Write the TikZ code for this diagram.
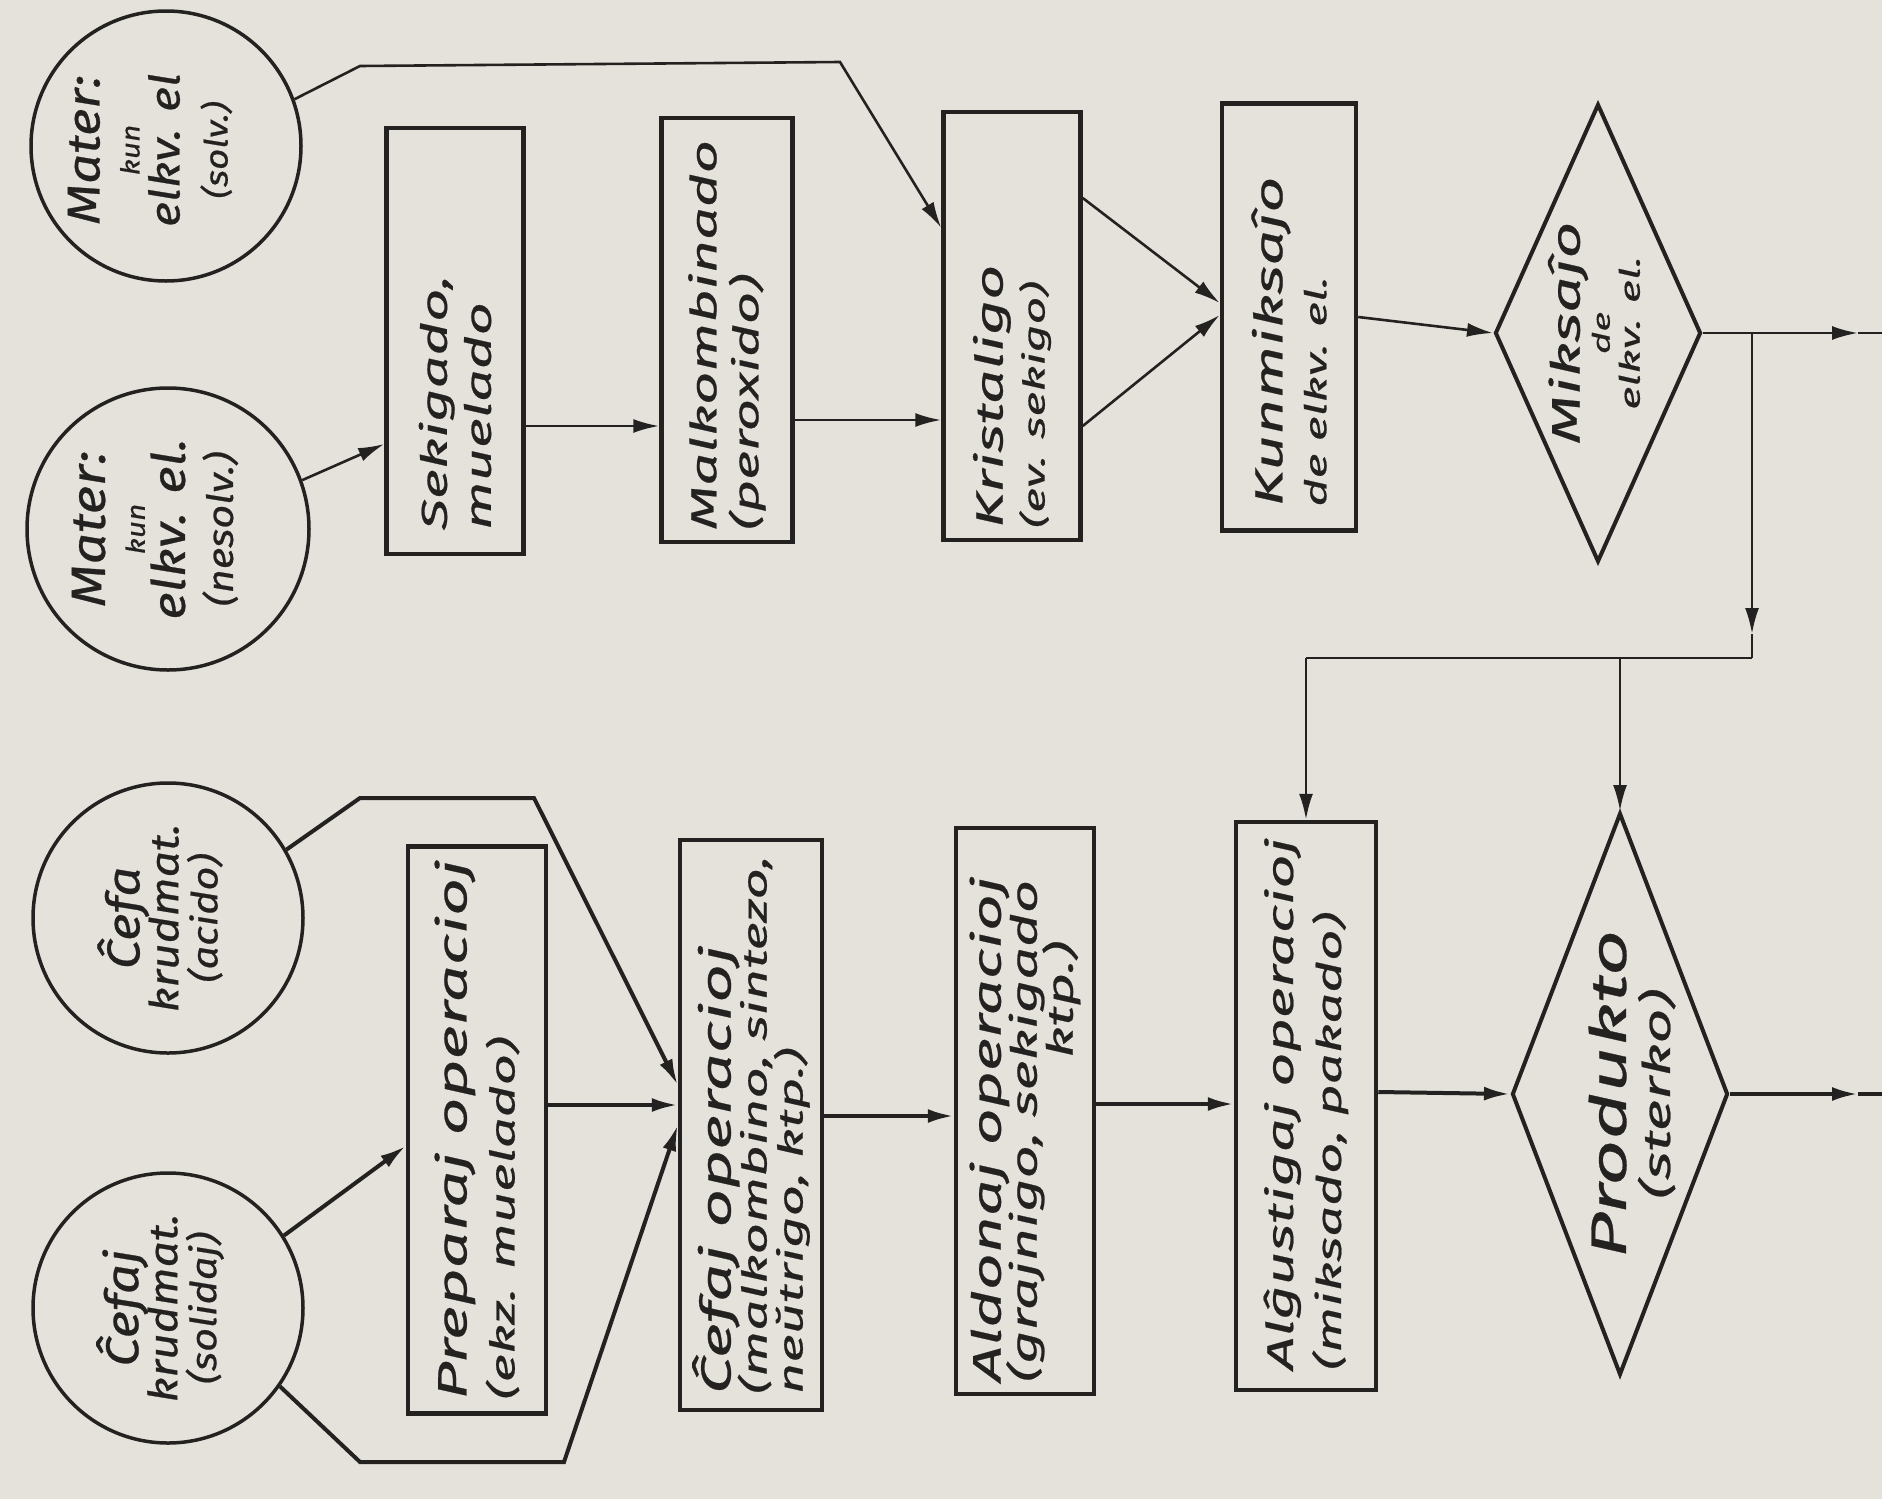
\documentclass[tikz,border=0pt]{standalone}
\usepackage{fontspec}
\newfontfamily\handw{Fira Sans}[FakeStretch=1.6,FakeBold=0.6]
\newfontfamily\handn{Fira Sans}[FakeStretch=1.15,FakeBold=0.6]
\usetikzlibrary{arrows.meta,calc,shapes.geometric}
\definecolor{paper}{RGB}{228,226,219}
\definecolor{ink}{RGB}{36,34,32}
\newcommand\fsz[2]{\fontsize{#1}{#2}\selectfont}
\tikzset{
  box/.style={draw=ink,line width=4.5pt,inner sep=0pt},
  circ/.style={circle,draw=ink,line width=3.5pt,inner sep=0pt,minimum size=#1},
  dia/.style={diamond,draw=ink,line width=4pt,inner sep=0pt},
  btxt/.style={rotate=90,align=left,inner sep=0pt,text=ink,anchor=west},
  ctxt/.style={rotate=90,align=center,inner sep=0pt,text=ink},
  thinc/.style={draw=ink,line width=2.6pt},
  thickc/.style={draw=ink,line width=4pt},
  arr/.style={-{Latex[length=26pt,width=14pt]}},
}
\begin{document}
\begin{tikzpicture}[x=1pt,y=-1pt]
\lineskiplimit=-500pt
\fill[paper] (0,0) rectangle (1882,1499);
\useasboundingbox (0,0) rectangle (1882,1499);

% ---------- circles ----------
\node[circ=270pt] (cA) at (166,146) {};
\node[circ=282pt] (cB) at (168,529) {};
\node[circ=270pt] (cC) at (168,918) {};
\node[circ=270pt] (cD) at (168,1308) {};

\node[ctxt,font=\handn\itshape\fsz{40}{40}] (cA-t) at (150,150)
  {{\fsz{46}{40}Mater:}\\{\fsz{26}{40}kun}\\{\fsz{42}{40}elkv. el}\\[8pt]{\fsz{32}{40}(solv.)}};
\node[ctxt,font=\handn\itshape\fsz{40}{40}] (cB-t) at (155,529)
  {{\fsz{48}{40}Mater:}\\{\fsz{26}{40}kun}\\{\fsz{46}{40}elkv. el.}\\[8pt]{\fsz{36}{40}(nesolv.)}};
\node[ctxt,font=\handn\itshape\fsz{40}{39}] (cC-t) at (160,918)
  {{\fsz{46}{39}Ĉefa}\\{\fsz{40}{39}krudmat.}\\{\fsz{36}{39}(acido)}};
\node[ctxt,font=\handn\itshape\fsz{40}{39}] (cD-t) at (160,1308)
  {{\fsz{46}{39}Ĉefaj}\\{\fsz{40}{39}krudmat.}\\{\fsz{36}{39}(solidaj)}};

% ---------- top row ----------
\node[box,minimum width=137pt,minimum height=426pt] (sek) at (455,341) {};
\node[box,minimum width=131pt,minimum height=424pt] (malk) at (727,330) {};
\node[box,minimum width=137pt,minimum height=428pt] (krist) at (1012,326) {};
\node[box,minimum width=134pt,minimum height=427pt] (kunm) at (1289,317) {};
\node[dia,minimum width=206pt,minimum height=458pt] (dm) at (1598,333) {};

\node[btxt,font=\handw\itshape\fsz{36}{44}] (sek-t) at ([yshift=26pt]sek.south)
  {Sekigado,\\muelado};
\node[btxt,font=\handw\itshape\fsz{35}{42}] (malk-t) at ([yshift=14pt]malk.south)
  {{\fsz{36}{42}Malkombinado}\\(peroxido)};
\node[btxt,font=\handw\itshape\fsz{30}{42}] (krist-t) at ([yshift=14pt]krist.south)
  {{\fsz{38}{42}Kristaligo}\\(ev. sekigo)};
\node[btxt,font=\handw\itshape\fsz{30}{44}] (kunm-t) at ([yshift=26pt]kunm.south)
  {{\fsz{39}{44}Kunmiksaĵo}\\de elkv. el.};
\node[ctxt,font=\handw\itshape\fsz{28}{30}] (dm-t) at (1594,333)
  {{\fsz{40}{30}Miksaĵo}\\{\fsz{24}{30}de}\\elkv. el.};

% ---------- bottom row ----------
\node[box,minimum width=138pt,minimum height=567pt] (prep) at (477,1130) {};
\node[box,minimum width=142pt,minimum height=570pt] (cef) at (751,1125) {};
\node[box,minimum width=138pt,minimum height=566pt] (ald) at (1025,1111) {};
\node[box,minimum width=140pt,minimum height=568pt] (alg) at (1306,1106) {};
\node[dia,minimum width=216pt,minimum height=562pt] (dp) at (1620,1094) {};

\node[btxt,font=\handw\itshape\fsz{34}{48}] (prep-t) at ([yshift=16pt]prep.south)
  {{\fsz{41}{48}Preparaj operacioj}\\(ekz. muelado)};
\node[btxt,font=\handw\itshape\fsz{34}{36}] (cef-t) at ([yshift=18pt]cef.south)
  {{\fsz{42}{36}Ĉefaj operacioj}\\(malkombino, sintezo,\\neŭtrigo, ktp.)};
\node[btxt,font=\handw\itshape\fsz{36}{36}] (ald-t) at ([yshift=14pt]ald.south)
  {{\fsz{40}{36}Aldonaj operacioj}\\(grajnigo, sekigado\\\hspace*{9em}ktp.)};
\node[btxt,font=\handw\itshape\fsz{34}{48}] (alg-t) at ([yshift=22pt]alg.south)
  {{\fsz{37}{48}Alĝustigaj operacioj}\\(miksado, pakado)};
\node[ctxt,font=\handw\itshape\fsz{38}{44}] (dp-t) at (1632,1094)
  {{\fsz{50}{44}Produkto}\\(sterko)};

% ---------- connectors, top ----------
\coordinate (a1) at (360,66);
\coordinate (a2) at (840,62);
\draw[thinc,arr] (cA.20) -- (a1) -- (a2) -- ([yshift=-118pt]krist.north west);
\draw[thinc,arr] (cB.20) -- ([yshift=-103pt]sek.west);
\draw[thinc,arr] ([yshift=-85pt]sek.east) -- ([yshift=-85pt]sek.east -| malk.west);
\draw[thinc,arr] ([yshift=-90pt]malk.east) -- ([yshift=-90pt]malk.east -| krist.west);
\draw[thinc,arr] ([yshift=128pt]krist.east) -- ([yshift=14pt]kunm.west);
\draw[thinc,arr] ([yshift=-100pt]krist.east) -- ([yshift=2pt]kunm.west);
\draw[thinc,arr] (kunm.east) -- (dm.west);

\coordinate (x1a) at (dm.east -| 1858,0);
\coordinate (x1) at (dm.east -| 1882,0);
\draw[thinc,arr] (dm.east) -- (x1a);
\draw[thinc] (x1a) -- (x1);

\coordinate (j1) at (dm.east -| 1752,0);
\coordinate (j1a) at (1752,634);
\coordinate (j2) at (1752,658);
\draw[thinc,arr] (j1) -- (j1a);
\draw[thinc] (j1a) -- (j2);
\coordinate (j3) at (alg.north |- j2);
\coordinate (j4) at (dp.north |- j2);
\draw[thinc] (j2) -- (j3);
\draw[thinc,arr] (j3) -- (alg.north);
\draw[thinc,arr] (j4) -- (dp.north);

% ---------- connectors, bottom ----------
\coordinate (b1) at (360,798);
\coordinate (b2) at (534,798);
\draw[thickc,arr] (cC.30) -- (b1) -- (b2) -- ([yshift=40pt]cef.west);
\draw[thickc,arr] (cD.32) -- ([yshift=-16pt]prep.west);
\coordinate (b3) at (360,1462);
\coordinate (b4) at (564,1462);
\draw[thickc,arr] (cD.-35) -- (b3) -- (b4) -- ([yshift=0pt]cef.west);
\draw[thickc,arr] ([yshift=25pt]prep.east) -- ([yshift=25pt]prep.east -| cef.west);
\draw[thickc,arr] ([yshift=9pt]cef.east) -- ([yshift=9pt]cef.east -| ald.west);
\draw[thickc,arr] ([yshift=7pt]ald.east) -- ([yshift=7pt]ald.east -| alg.west);
\draw[thickc,arr] ([yshift=14pt]alg.east) -- (dp.west);

\coordinate (x2a) at (dp.east -| 1858,0);
\coordinate (x2) at (dp.east -| 1882,0);
\draw[thickc,arr] (dp.east) -- (x2a);
\draw[thickc] (x2a) -- (x2);
\end{tikzpicture}
\end{document}
